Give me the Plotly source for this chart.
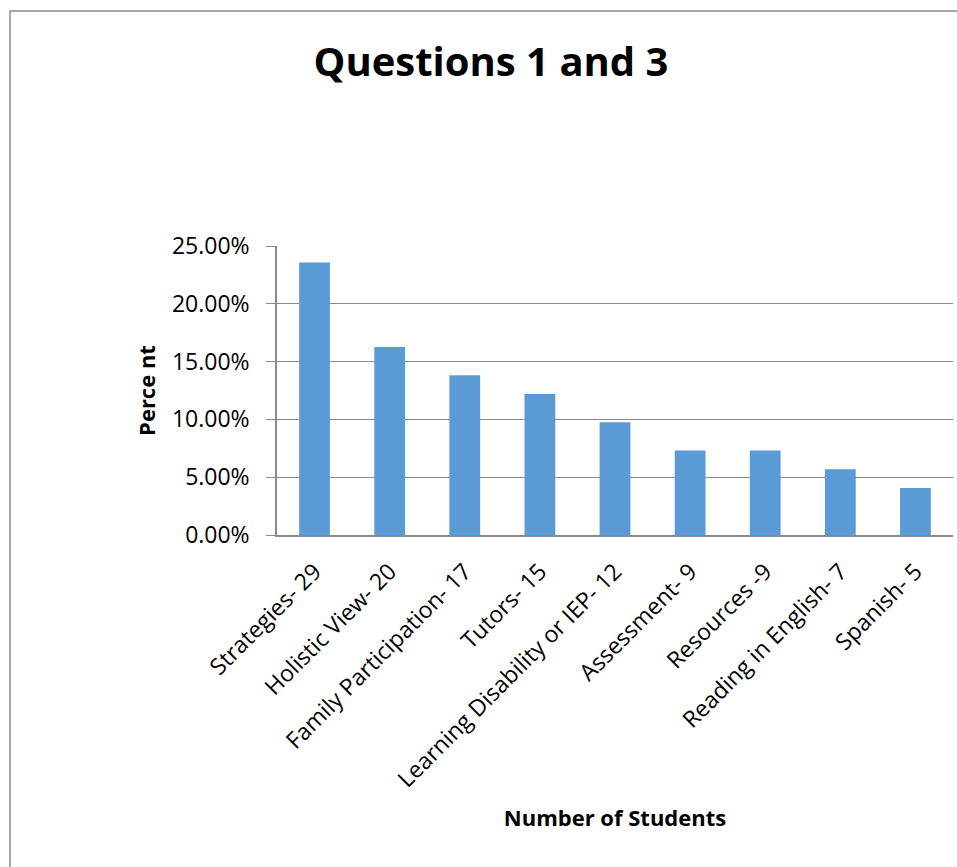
import plotly.graph_objects as go

categories = ["Strategies- 29", "Holistic View- 20", "Family Participation- 17",
              "Tutors- 15", "Learning Disability or IEP- 12", "Assessment- 9",
              "Resources -9", "Reading in English- 7", "Spanish- 5"]
percent = [0.2358, 0.1626, 0.1382, 0.1220, 0.0976, 0.0732, 0.0732, 0.0569, 0.0407]
y_ticks = [0, 0.05, 0.10, 0.15, 0.20, 0.25]

W, H = 957, 867
L, R, T, B = 277, 4, 246, 332
pw, ph = W - L - R, H - T - B

def px(x):
    return (x - L) / pw

def py(y):
    return (H - B - y) / ph

fig = go.Figure(go.Bar(
    x=categories, y=percent,
    marker=dict(color="#5b9bd5", line=dict(width=0)),
    hoverinfo="x+y",
))

fig.update_layout(
    width=W, height=H,
    margin=dict(l=L, r=R, t=T, b=B),
    paper_bgcolor="white", plot_bgcolor="white",
    bargap=0.59,
    showlegend=False,
    font=dict(family="Open Sans", color="black"),
    title=dict(text="<b>Questions 1 and 3</b>", x=491 / W, xref="container", xanchor="center",
               y=1 - 62 / H, yref="container", yanchor="middle",
               font=dict(family="Open Sans", size=40, color="black")),
    shapes=[dict(type="path", xref="paper", yref="paper",
                 path=f"M {px(10)} {py(H + 20)} L {px(10)} {py(11)} L {px(W + 20)} {py(11)}",
                 line=dict(color="#8a8a8a", width=1.5))],
)

fig.update_xaxes(
    tickangle=-45, tickfont=dict(size=23, family="Open Sans", color="black"),
    ticklabelstandoff=12,
    showgrid=False, showline=True, linecolor="#8a8a8a", linewidth=2,
    ticks="", automargin=False,
    title=dict(text="<b>Number of Students</b>", font=dict(size=22, family="Open Sans", color="black"),
               standoff=18),
)
fig.update_yaxes(
    range=[0, 0.25], tickvals=y_ticks, tickformat=".2%",
    tickfont=dict(size=23, family="Open Sans", color="black"),
    ticklabelstandoff=12,
    showgrid=True, gridcolor="#8a8a8a", gridwidth=1,
    showline=True, linecolor="#8a8a8a", linewidth=1.5,
    ticks="outside", ticklen=9, tickcolor="#8a8a8a", tickwidth=1,
    zeroline=False, automargin=False,
    title=dict(text="<b>Perce nt</b>", font=dict(size=22, family="Open Sans", color="black"),
               standoff=10),
)

fig.write_html("out.html", config={"displayModeBar": False},
               post_script="document.body.style.margin='0px';")
